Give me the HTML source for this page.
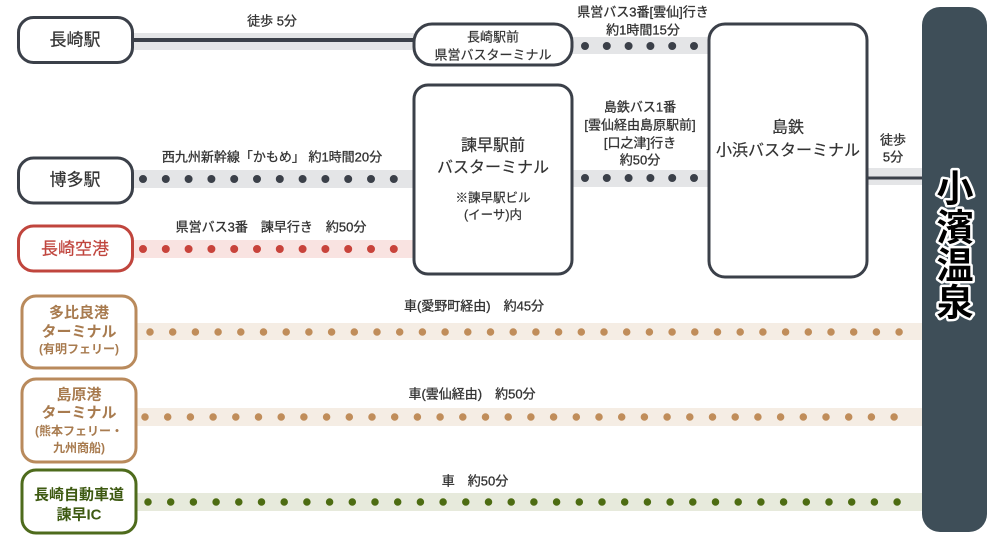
<!DOCTYPE html>
<html><head><meta charset="utf-8"><style>
html,body{margin:0;padding:0;background:#fff;}
svg{display:block;}
text{font-family:"Liberation Sans","Noto Sans CJK JP",sans-serif;}
</style></head><body>
<svg width="1000" height="545" viewBox="0 0 1000 545" xmlns="http://www.w3.org/2000/svg">
<rect width="1000" height="545" fill="#fff"/>

<!-- bands -->
<rect x="133" y="33" width="281" height="17" fill="#e4e5e7"/>
<line x1="133" y1="40" x2="414" y2="40" stroke="#3b4049" stroke-width="4"/>
<rect x="572" y="37" width="137" height="17" fill="#e4e5e7"/>
<line x1="585" y1="46" x2="700" y2="46" stroke="#3b4049" stroke-width="8" stroke-linecap="round" stroke-dasharray="0 21.8"/>
<rect x="133" y="170" width="281" height="18" fill="#e4e5e7"/>
<line x1="143" y1="179" x2="400" y2="179" stroke="#3b4049" stroke-width="8" stroke-linecap="round" stroke-dasharray="0 22.8"/>
<rect x="133" y="240" width="281" height="18" fill="#f9e3e1"/>
<line x1="143" y1="249" x2="400" y2="249" stroke="#c8433b" stroke-width="8" stroke-linecap="round" stroke-dasharray="0 22.8"/>
<rect x="572" y="170" width="137" height="17" fill="#e4e5e7"/>
<line x1="585" y1="178" x2="700" y2="178" stroke="#3b4049" stroke-width="8" stroke-linecap="round" stroke-dasharray="0 21.8"/>
<rect x="866" y="168" width="57" height="17" fill="#e4e5e7"/>
<line x1="866" y1="178" x2="923" y2="178" stroke="#3b4049" stroke-width="3"/>

<rect x="136" y="323" width="787" height="17" fill="#f5ede4"/>
<line x1="150" y1="332" x2="905" y2="332" stroke="#c08d5a" stroke-width="7.5" stroke-linecap="round" stroke-dasharray="0 22.7"/>
<rect x="136" y="408" width="787" height="18" fill="#f5ede4"/>
<line x1="145" y1="417" x2="900" y2="417" stroke="#c08d5a" stroke-width="7.5" stroke-linecap="round" stroke-dasharray="0 22.7"/>
<rect x="136" y="493" width="787" height="18" fill="#e7eadc"/>
<line x1="148" y1="502" x2="903" y2="502" stroke="#4d6c12" stroke-width="7.5" stroke-linecap="round" stroke-dasharray="0 22.7"/>

<!-- boxes -->
<g fill="#fff" stroke="#3b4049" stroke-width="3">
<rect x="18.5" y="17.5" width="114" height="45" rx="15"/>
<rect x="18.5" y="158" width="114" height="45" rx="15"/>
<rect x="414" y="24" width="158" height="41" rx="18"/>
<rect x="414" y="85" width="158" height="189" rx="14"/>
<rect x="709" y="24" width="158" height="253" rx="16"/>
</g>
<rect x="18.5" y="226" width="114" height="45" rx="15" fill="#fff" stroke="#c0453d" stroke-width="3"/>
<rect x="22" y="296" width="114" height="72" rx="14" fill="#fff" stroke="#b98a5c" stroke-width="3"/>
<rect x="22" y="379" width="114" height="83" rx="14" fill="#fff" stroke="#b98a5c" stroke-width="3"/>
<rect x="22" y="470" width="114" height="63" rx="14" fill="#fff" stroke="#4e6b1c" stroke-width="3"/>

<!-- right bar -->
<rect x="922" y="7" width="65" height="525" rx="18" fill="#3e4e58"/>
<g font-size="37" font-weight="bold" text-anchor="middle" dominant-baseline="central" fill="#000" stroke="#fff" stroke-width="5" paint-order="stroke" stroke-linejoin="round">
<text x="955" y="189">小</text>
<text x="955" y="228">濱</text>
<text x="955" y="266">温</text>
<text x="955" y="303">泉</text>
</g>

<!-- box texts -->
<g text-anchor="middle" dominant-baseline="central" fill="#333" stroke="#333" stroke-width="0.2">
<text x="75" y="40" font-size="17">長崎駅</text>
<text x="75" y="180" font-size="17">博多駅</text>
<text x="75" y="249" font-size="17" fill="#c0453d" stroke="#c0453d">長崎空港</text>
<text x="493" y="37" font-size="13">長崎駅前</text>
<text x="493" y="55" font-size="13">県営バスターミナル</text>
<text x="493" y="146" font-size="16">諫早駅前</text>
<text x="493" y="168" font-size="16">バスターミナル</text>
<text x="493" y="198" font-size="12.5">※諫早駅ビル</text>
<text x="493" y="215" font-size="12.5">(イーサ)内</text>
<text x="788" y="128" font-size="16">島鉄</text>
<text x="788" y="151" font-size="16">小浜バスターミナル</text>
</g>
<g text-anchor="middle" dominant-baseline="central" fill="#a87b4f" font-weight="bold">
<text x="79" y="313" font-size="15">多比良港</text>
<text x="79" y="332" font-size="15">ターミナル</text>
<text x="79" y="349" font-size="12">(有明フェリー)</text>
<text x="79" y="395" font-size="15">島原港</text>
<text x="79" y="413" font-size="15">ターミナル</text>
<text x="79" y="431" font-size="12">(熊本フェリー・</text>
<text x="79" y="448" font-size="12">九州商船)</text>
</g>
<g text-anchor="middle" dominant-baseline="central" fill="#3e5a12" font-weight="bold" font-size="15">
<text x="79" y="495">長崎自動車道</text>
<text x="79" y="515">諫早IC</text>
</g>

<!-- labels -->
<g text-anchor="middle" dominant-baseline="central" fill="#333" stroke="#333" stroke-width="0.3" font-size="13">
<text x="272" y="21">徒歩 5分</text>
<text x="272" y="157">西九州新幹線「かもめ」 約1時間20分</text>
<text x="271" y="227">県営バス3番　諫早行き　約50分</text>
<text x="643" y="12">県営バス3番[雲仙]行き</text>
<text x="643" y="30">約1時間15分</text>
<text x="640" y="107">島鉄バス1番</text>
<text x="640" y="125">[雲仙経由島原駅前]</text>
<text x="640" y="143">[口之津]行き</text>
<text x="640" y="160">約50分</text>
<text x="893" y="140">徒歩</text>
<text x="893" y="157">5分</text>
<text x="474" y="306">車(愛野町経由)　約45分</text>
<text x="472" y="394">車(雲仙経由)　約50分</text>
<text x="475" y="481">車　約50分</text>
</g>
</svg>
</body></html>
